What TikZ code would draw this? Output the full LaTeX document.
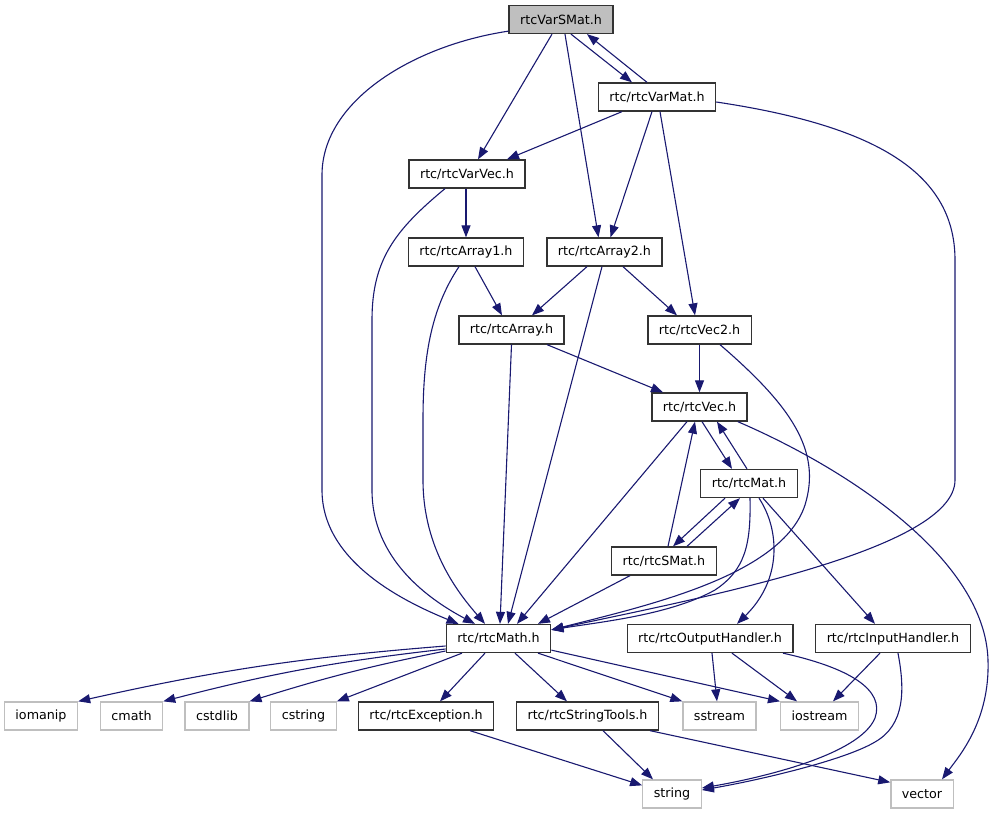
\documentclass[tikz,border=0pt]{standalone}
\usepackage{fontspec}
\setmainfont{DejaVu Sans}
\usetikzlibrary{arrows.meta}

\definecolor{edgeblue}{HTML}{191970}
\definecolor{boxgrey}{HTML}{BFBFBF}

\tikzset{
  file/.style={draw=black!80, line width=1.3pt, minimum height=28pt,
    inner xsep=11pt, inner ysep=0pt, font=\fontsize{12.7}{15}\selectfont},
  rootfile/.style={file, fill=boxgrey},
  sysfile/.style={file, draw=boxgrey},
  dep/.style={draw=edgeblue, line width=1.1pt,
    -{Triangle[length=12pt,width=9pt,color=edgeblue]}},
}

\begin{document}
\begin{tikzpicture}[x=1pt,y=-1pt]

  \useasboundingbox (0,0) rectangle (994,813);

  % --- Files of the project ---
  \node[rootfile] (vsmat)  at (561,19.5)  {rtcVarSMat.h};
  \node[file]     (varmat) at (657,97)    {rtc/rtcVarMat.h};
  \node[file]     (varvec) at (467,174)   {rtc/rtcVarVec.h};
  \node[file]     (array1) at (466,252)   {rtc/rtcArray1.h};
  \node[file]     (array2) at (604.5,252) {rtc/rtcArray2.h};
  \node[file]     (array)  at (511.5,330) {rtc/rtcArray.h};
  \node[file]     (vec2)   at (699.5,330) {rtc/rtcVec2.h};
  \node[file]     (vec)    at (699.5,407) {rtc/rtcVec.h};
  \node[file]     (mat)    at (749,483.5) {rtc/rtcMat.h};
  \node[file]     (smat)   at (664,561)   {rtc/rtcSMat.h};
  \node[file]     (math)   at (498.5,638.5) {rtc/rtcMath.h};
  \node[file]     (outh)   at (710,638.5) {rtc/rtcOutputHandler.h};
  \node[file]     (inh)    at (893,638.5) {rtc/rtcInputHandler.h};
  \node[file]     (exc)    at (426,716)   {rtc/rtcException.h};
  \node[file]     (strt)   at (587.5,716) {rtc/rtcStringTools.h};

  % --- System headers ---
  \node[sysfile] (iomanip) at (41,716)    {iomanip};
  \node[sysfile] (cmath)   at (131.5,716) {cmath};
  \node[sysfile] (cstdlib) at (217,716)   {cstdlib};
  \node[sysfile] (cstring) at (303.5,716) {cstring};
  \node[sysfile] (sstr)    at (719.5,716) {sstream};
  \node[sysfile] (iostr)   at (819.5,716) {iostream};
  \node[sysfile] (string)  at (672,794)   {string};
  \node[sysfile] (vector)  at (922,794)   {vector};

  % --- From rtcVarSMat.h ---
  \draw[dep] ([yshift=3pt]vsmat.south west) .. controls (415,45) and (322,100) .. (322,175)
    -- (322,490) .. controls (322,560) and (400,600) .. ([xshift=-40pt]math.north);
  \draw[dep] ([xshift=-9pt]vsmat.south) -- ([xshift=11pt]varvec.north);
  \draw[dep] ([xshift=4pt]vsmat.south) -- ([xshift=-6pt]array2.north);
  \draw[dep] ([xshift=10pt]vsmat.south) -- ([xshift=-25pt]varmat.north);

  % --- From rtc/rtcVarMat.h ---
  \draw[dep] ([xshift=-10pt]varmat.north) -- ([xshift=26pt]vsmat.south);
  \draw[dep] ([xshift=-35pt]varmat.south) -- ([xshift=40pt]varvec.north);
  \draw[dep] ([xshift=-5pt]varmat.south) -- ([xshift=6pt]array2.north);
  \draw[dep] ([xshift=3pt]varmat.south) -- ([xshift=-4.5pt]vec2.north);
  \draw[dep] ([yshift=-5pt]varmat.east) .. controls (870,125) and (955,170) .. (955,260)
    -- (955,480) .. controls (955,550) and (700,598) .. ([yshift=-6pt]math.north east);

  % --- From rtc/rtcVarVec.h ---
  \draw[dep] ([xshift=-1pt]varvec.south) -- (array1.north);
  \draw[dep] ([xshift=-22pt]varvec.south) .. controls (395,230) and (372,260) .. (372,320)
    -- (372,490) .. controls (372,560) and (430,600) .. ([xshift=-23.5pt]math.north);

  % --- From the arrays ---
  \draw[dep] ([xshift=9pt]array1.south) -- ([xshift=-9.5pt]array.north);
  \draw[dep] ([xshift=-7pt]array1.south) .. controls (430,310) and (423,360) .. (423,420)
    -- (423,480) .. controls (423,550) and (460,595) .. ([xshift=-13.5pt]math.north);
  \draw[dep] ([xshift=-17.5pt]array2.south) -- ([xshift=20.5pt]array.north);
  \draw[dep] ([xshift=18.5pt]array2.south) -- ([xshift=-22.5pt]vec2.north);
  \draw[dep] ([xshift=-2.5pt]array2.south) -- ([xshift=9.5pt]math.north);
  \draw[dep] ([xshift=35.5pt]array.south) -- ([xshift=-36.5pt]vec.north);
  \draw[dep] (array.south) -- ([xshift=1.5pt]math.north);

  % --- From rtc/rtcVec2.h ---
  \draw[dep] (vec2) -- (vec);
  \draw[dep] ([xshift=20.5pt]vec2.south) .. controls (790,405) and (822,450) .. (805,505)
    .. controls (782,575) and (650,605) .. ([yshift=-6pt]math.north east);

  % --- Between rtc/rtcVec.h, rtc/rtcMat.h and rtc/rtcSMat.h ---
  \draw[dep] ([xshift=2.5pt]vec.south) -- ([xshift=-17pt]mat.north);
  \draw[dep] ([xshift=-2pt]mat.north) -- ([xshift=17.5pt]vec.south);
  \draw[dep] ([xshift=-12.5pt]vec.south) -- ([xshift=18.5pt]math.north);
  \draw[dep] ([xshift=-10pt]vec.south east) .. controls (850,470) and (985,560) .. (988,660)
    .. controls (990,720) and (960,755) .. ([xshift=20pt]vector.north);
  \draw[dep] ([xshift=-24pt]mat.south) -- ([xshift=9pt]smat.north);
  \draw[dep] ([xshift=23pt]smat.north) -- ([xshift=-9pt]mat.south);
  \draw[dep] ([xshift=4pt]smat.north) -- ([xshift=-4.5pt]vec.south);
  \draw[dep] ([xshift=-34pt]smat.south) -- ([xshift=39.5pt]math.north);
  \draw[dep] ([xshift=1pt]mat.south) .. controls (751,545) and (745,570) .. (715,590)
    .. controls (670,615) and (600,622) .. ([yshift=-6pt]math.north east);
  \draw[dep] ([xshift=10pt]mat.south) .. controls (780,530) and (782,580) .. ([xshift=27pt]outh.north);
  \draw[dep] ([xshift=14pt]mat.south) -- ([xshift=-18pt]inh.north);

  % --- From rtc/rtcMath.h ---
  \draw[dep] ([yshift=-7.5pt]math.west) to[bend right=4] (iomanip.north east);
  \draw[dep] ([yshift=-10.5pt]math.west) to[bend right=4] (cmath.north east);
  \draw[dep] ([yshift=-12.5pt]math.west) to[bend right=3] (cstdlib.north east);
  \draw[dep] ([xshift=-36.5pt]math.south) -- (cstring.north east);
  \draw[dep] ([xshift=-13.5pt]math.south) -- ([xshift=14pt]exc.north);
  \draw[dep] ([xshift=16.5pt]math.south) -- ([xshift=-20.5pt]strt.north);
  \draw[dep] ([xshift=39.5pt]math.south) -- (sstr.north west);
  \draw[dep] ([yshift=3pt]math.south east) -- (iostr.north west);

  % --- From the handlers ---
  \draw[dep] ([xshift=2pt]outh.south) -- ([xshift=-2.5pt]sstr.north);
  \draw[dep] ([xshift=22pt]outh.south) -- ([xshift=-22.5pt]iostr.north);
  \draw[dep] ([xshift=73pt]outh.south) .. controls (850,668) and (885,690) .. (875,718)
    .. controls (860,755) and (760,778) .. ([yshift=6pt]string.east);
  \draw[dep] ([xshift=-13pt]inh.south) -- ([xshift=13.5pt]iostr.north);
  \draw[dep] ([xshift=5pt]inh.south) .. controls (905,690) and (905,725) .. (875,742)
    .. controls (845,760) and (760,780) .. ([yshift=4pt]string.east);

  % --- From rtc/rtcException.h and rtc/rtcStringTools.h ---
  \draw[dep] ([xshift=44pt]exc.south) -- ([yshift=-6pt]string.north west);
  \draw[dep] ([xshift=15.5pt]strt.south) -- ([xshift=-19pt]string.north);
  \draw[dep] ([xshift=62.5pt]strt.south) -- ([yshift=-3pt]vector.north west);

\end{tikzpicture}
\end{document}
